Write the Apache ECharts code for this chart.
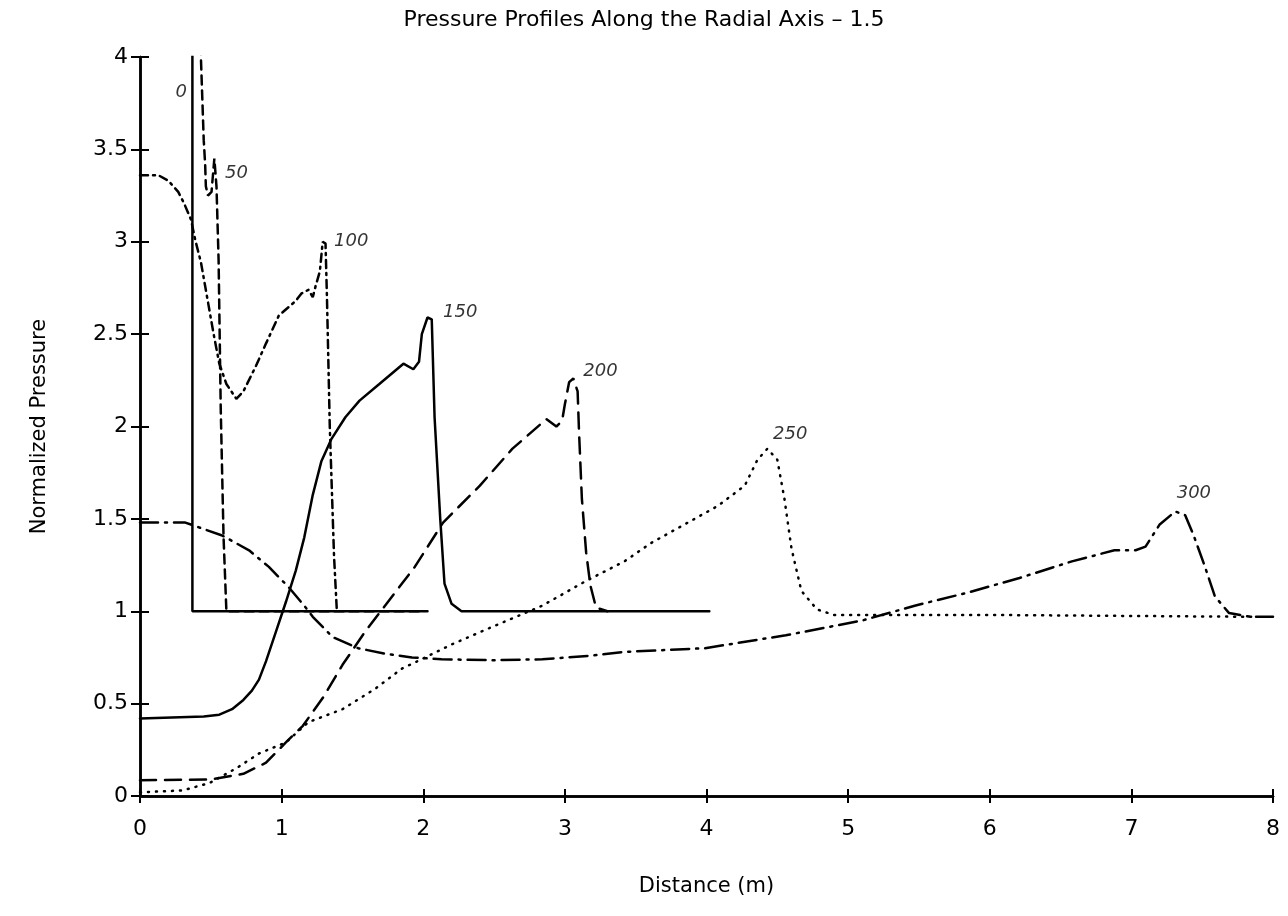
<!DOCTYPE html>
<html>
<head>
<meta charset="utf-8">
<script src="https://cdn.jsdelivr.net/npm/echarts@6/dist/echarts.min.js"></script>
<style>
html, body { margin: 0; padding: 0; background: #fff; }
#chart { width: 1288px; height: 916px; }
</style>
</head>
<body>
<div id="chart"></div>
<script>
// profiles at each time step, [distance, normalized pressure]
var t0 = [[0, 10], [0.37, 10], [0.37, 1], [2.03, 1]];
var t50 = [[0, 10], [0.41, 10], [0.43, 4.0], [0.45, 3.55], [0.46, 3.42], [0.465, 3.3], [0.48, 3.25], [0.505, 3.27],
  [0.515, 3.36], [0.525, 3.45], [0.54, 3.3], [0.555, 2.9], [0.57, 2.1], [0.59, 1.4], [0.61, 1.0], [2.0, 1.0]];
var t100 = [[0, 3.36], [0.13, 3.36], [0.2, 3.33], [0.27, 3.27], [0.31, 3.21], [0.36, 3.12], [0.39, 3.01], [0.43, 2.89],
  [0.46, 2.76], [0.52, 2.5], [0.56, 2.34], [0.61, 2.23], [0.68, 2.15], [0.73, 2.19], [0.82, 2.33], [0.89, 2.45],
  [0.98, 2.6], [1.1, 2.68], [1.14, 2.72], [1.19, 2.74], [1.22, 2.7], [1.24, 2.76], [1.27, 2.84], [1.29, 3.0],
  [1.31, 2.99], [1.32, 2.7], [1.34, 2.0], [1.37, 1.3], [1.39, 1.0]];
var t150 = [[0, 0.42], [0.45, 0.43], [0.56, 0.44], [0.65, 0.47], [0.73, 0.52], [0.79, 0.57], [0.84, 0.63], [0.89, 0.73],
  [0.96, 0.89], [1.03, 1.05], [1.1, 1.22], [1.16, 1.4], [1.22, 1.63], [1.28, 1.81], [1.35, 1.93], [1.45, 2.05],
  [1.55, 2.14], [1.69, 2.23], [1.86, 2.34], [1.93, 2.31], [1.97, 2.35], [1.99, 2.5], [2.03, 2.59], [2.06, 2.58],
  [2.08, 2.05], [2.12, 1.5], [2.15, 1.15], [2.2, 1.04], [2.27, 1.0], [4.02, 1.0]];
var t200 = [[0, 0.085], [0.5, 0.09], [0.73, 0.12], [0.89, 0.18], [1.03, 0.29], [1.15, 0.38], [1.29, 0.53], [1.43, 0.71],
  [1.59, 0.89], [1.73, 1.03], [1.94, 1.24], [2.14, 1.48], [2.4, 1.68], [2.63, 1.88], [2.87, 2.04], [2.94, 2.0],
  [2.98, 2.03], [3.0, 2.12], [3.03, 2.24], [3.06, 2.26], [3.09, 2.19], [3.1, 1.97], [3.12, 1.61], [3.15, 1.32],
  [3.18, 1.14], [3.22, 1.02], [3.3, 1.0]];
var t250 = [[0, 0.02], [0.3, 0.03], [0.49, 0.07], [0.68, 0.15], [0.84, 0.23], [1.03, 0.29], [1.19, 0.4], [1.43, 0.47],
  [1.66, 0.58], [1.85, 0.69], [1.96, 0.73], [2.2, 0.82], [2.44, 0.9], [2.84, 1.03], [3.14, 1.16], [3.42, 1.27],
  [3.61, 1.37], [4.08, 1.57], [4.27, 1.68], [4.36, 1.82], [4.43, 1.88], [4.5, 1.82], [4.55, 1.61], [4.6, 1.34],
  [4.67, 1.11], [4.78, 1.01], [4.9, 0.98], [6, 0.98], [7.85, 0.97]];
var t300 = [[0, 1.48], [0.32, 1.48], [0.58, 1.41], [0.77, 1.33], [0.91, 1.24], [1.05, 1.13], [1.17, 1.02], [1.22, 0.97],
  [1.36, 0.86], [1.54, 0.8], [1.73, 0.77], [1.92, 0.75], [2.13, 0.74], [2.49, 0.735], [2.84, 0.74], [3.19, 0.76],
  [3.42, 0.78], [3.99, 0.8], [4.56, 0.87], [5.1, 0.95], [5.47, 1.03], [5.84, 1.1], [6.21, 1.18], [6.58, 1.27],
  [6.88, 1.33], [7.03, 1.33], [7.1, 1.35], [7.2, 1.47], [7.31, 1.54], [7.38, 1.52], [7.44, 1.41], [7.52, 1.24],
  [7.59, 1.08], [7.69, 0.99], [7.84, 0.97], [8, 0.97]];

// curve labels (time step) and where they are written
var labelNames = ['0', '50', '100', '150', '200', '250', '300'];
var labelX = [0.25, 0.6, 1.37, 2.14, 3.13, 4.47, 7.32];
var labelY = [3.81, 3.37, 3.0, 2.62, 2.3, 1.96, 1.64];

var chart = echarts.init(document.getElementById('chart'));

function line(data, dash) {
  return {
    type: 'line',
    data: data,
    symbol: 'none',
    clip: true,
    animation: false,
    lineStyle: { color: '#000', width: 2.5, type: dash, cap: 'round' }
  };
}

var labels = labelNames.map(function (n, i) {
  return { name: n, value: [labelX[i], labelY[i]] };
});

var axisText = { color: '#000', fontSize: 22, fontFamily: 'DejaVu Sans' };

chart.setOption({
  backgroundColor: '#fff',
  title: {
    text: 'Pressure Profiles Along the Radial Axis \u2013 1.5',
    left: 'center',
    top: 4,
    textStyle: { color: '#000', fontSize: 22, fontWeight: 'normal', fontFamily: 'DejaVu Sans' }
  },
  grid: { left: 140, right: 15, top: 57, bottom: 120 },
  xAxis: [{
    type: 'value', min: 0, max: 8, interval: 1,
    name: 'Distance (m)', nameLocation: 'middle', nameGap: 80,
    nameTextStyle: { color: '#000', fontSize: 21, fontFamily: 'DejaVu Sans' },
    axisLine: { lineStyle: { color: '#000', width: 2.5 } },
    axisTick: { inside: true, length: 7, lineStyle: { color: '#000', width: 2 } },
    axisLabel: Object.assign({ margin: 22 }, axisText),
    splitLine: { show: false }
  }, {
    type: 'value', min: 0, max: 8, interval: 1, position: 'top',
    axisLine: { lineStyle: { color: '#000', width: 2.5 } },
    axisTick: { inside: true, length: 7, lineStyle: { color: '#000', width: 2 } },
    axisLabel: { show: false },
    splitLine: { show: false }
  }],
  yAxis: [{
    type: 'value', min: 0, max: 4, interval: 0.5,
    name: 'Normalized Pressure', nameLocation: 'middle', nameGap: 90, nameRotate: 90,
    nameTextStyle: { color: '#000', fontSize: 21, fontFamily: 'DejaVu Sans' },
    axisLine: { lineStyle: { color: '#000', width: 2.5 } },
    axisTick: { inside: true, length: 9, lineStyle: { color: '#000', width: 2 } },
    axisLabel: Object.assign({ margin: 12 }, axisText),
    splitLine: { show: false }
  }, {
    type: 'value', min: 0, max: 4, interval: 0.5, position: 'right',
    axisLine: { lineStyle: { color: '#000', width: 2.5 } },
    axisTick: { inside: true, length: 9, lineStyle: { color: '#000', width: 2 } },
    axisLabel: { show: false },
    splitLine: { show: false }
  }],
  series: [
    line(t0, 'solid'),
    line(t50, [9, 6]),
    line(t100, [8, 5, 2, 5]),
    line(t150, 'solid'),
    line(t200, [16, 9]),
    line(t250, [1, 7]),
    line(t300, [18, 7, 2, 7]),
    {
      type: 'scatter',
      data: labels,
      symbolSize: 0,
      animation: false,
      label: {
        show: true,
        position: 'right',
        distance: 0,
        formatter: '{b}',
        color: '#000',
        fontSize: 18,
        fontStyle: 'italic',
        fontFamily: 'DejaVu Sans'
      }
    }
  ]
});
</script>
</body>
</html>
